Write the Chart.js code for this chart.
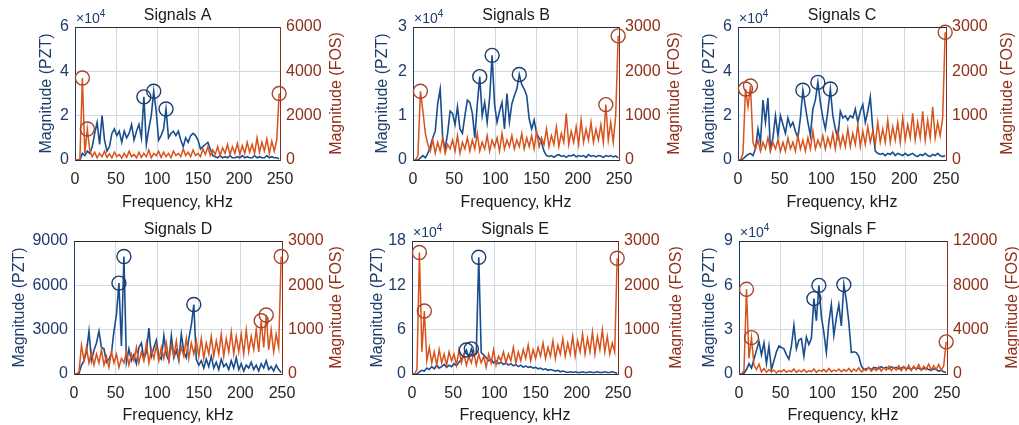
<!DOCTYPE html>
<html>
<head>
<meta charset="utf-8">
<script src="https://cdn.jsdelivr.net/npm/chart.js@4.4.1/dist/chart.umd.min.js"></script>
<style>
  html, body { margin: 0; padding: 0; background: #fff; }
  #wrap { position: relative; width: 1019px; height: 425px; overflow: hidden; background: #fff; }
  .pane { position: absolute; }
</style>
</head>
<body>
<div id="wrap"></div>
<script>
// frequency grid, kHz
var freq = [0,3,6,9,12,15,18,21,24,27,30,33,36,39,42,45,48,51,54,57,60,63,66,69,72,75,78,81,84,87,90,93,96,99,102,105,108,111,114,117,120,123,126,129,132,135,138,141,144,147,150,153,156,159,162,165,168,171,174,177,180,183,186,189,192,195,198,201,204,207,210,213,216,219,222,225,228,231,234,237,240,243,246,249];
var freqTicks = [0, 50, 100, 150, 200, 250];

// Signals A  (PZT in x10^4)
var pztA = [0,0,0,0.3,0.2,0.4,0.3,0.6,1.2,1.7,0.7,2.0,
            0.9,0.4,0.6,1.2,1.4,1.1,1.3,0.8,1.3,1.0,1.2,1.6,
            0.9,1.3,1.6,1.0,2.85,0.7,1.4,2.0,3.1,2.2,0.9,1.1,
            1.4,2.3,1.0,1.2,1.3,1.1,1.3,0.9,0.6,1.0,0.8,1.1,
            1.2,1.1,0.9,0.5,0.6,0.7,0.8,0.5,0.2,0.15,0.1,0.2,
            0.1,0.15,0.1,0.2,0.1,0.1,0.15,0.1,0.2,0.1,0.15,0.1,
            0.1,0.2,0.1,0.15,0.1,0.1,0.2,0.1,0.15,0.1,0.1,0.05];
var fosA = [0,0,50,3700,300,1400,450,150,350,100,300,150,
            400,120,280,100,350,150,250,80,300,120,400,150,
            250,100,350,120,300,150,450,100,300,200,400,120,
            350,150,300,100,400,200,300,150,500,200,350,150,
            450,200,300,150,500,250,600,200,450,250,600,200,
            550,300,700,250,600,300,750,250,650,300,800,350,
            700,300,1000,350,800,400,950,300,850,400,900,3000];
var pztPeakFreqA = [84, 96, 111];
var pztPeakValA = [2.85, 3.1, 2.3];
var fosPeakFreqA = [9, 15, 249];
var fosPeakValA = [3700, 1400, 3000];
var pztTicksA = [0, 2, 4, 6];
var fosTicksA = [0, 2000, 4000, 6000];

// Signals B
var pztB = [0,0,0,0.05,0.1,0.05,0.15,0.3,0.5,0.65,1.27,1.6,
            0.5,0.25,0.6,1.1,1.05,0.8,1.2,0.7,0.6,1.0,1.35,1.3,
            1.05,0.5,1.25,1.88,1.0,1.3,0.85,1.4,2.36,1.25,0.85,1.1,
            1.3,0.7,1.5,0.86,1.27,1.45,1.6,1.93,1.7,1.6,1.45,0.93,
            0.7,0.9,0.6,0.5,0.4,0.2,0.1,0.08,0.1,0.06,0.1,0.12,
            0.08,0.1,0.06,0.1,0.09,0.12,0.07,0.1,0.08,0.1,0.06,0.12,
            0.08,0.1,0.07,0.1,0.09,0.06,0.1,0.08,0.1,0.07,0.09,0.05];
var fosB = [0,0,100,1550,1100,600,350,200,450,150,400,200,
            500,150,350,250,450,200,550,150,400,250,500,200,
            450,250,600,200,400,250,550,200,450,300,500,200,
            600,250,450,300,550,250,450,300,600,250,500,300,
            550,250,650,300,500,350,700,300,550,350,750,300,
            600,400,1050,350,650,400,750,350,900,400,700,450,
            850,400,700,450,800,400,1250,450,850,400,1000,2800];
var pztPeakFreqB = [81, 96, 129];
var pztPeakValB = [1.88, 2.36, 1.93];
var fosPeakFreqB = [9, 234, 249];
var fosPeakValB = [1550, 1250, 2800];
var pztTicksB = [0, 1, 2, 3];
var fosTicksB = [0, 1000, 2000, 3000];

// Signals C
var pztC = [0,0,0.05,0.15,0.25,0.3,0.2,0.5,1.4,0.8,2.7,1.7,
            2.8,0.5,1.0,2.0,1.1,2.0,1.6,1.2,1.9,1.5,1.7,1.3,
            1.0,1.9,3.15,2.4,1.7,1.1,2.3,2.7,3.5,2.6,1.9,1.4,
            2.2,3.2,2.0,1.4,1.0,2.2,1.9,2.0,1.8,2.0,1.9,2.3,
            1.7,2.2,2.5,1.7,2.2,2.85,1.4,0.4,0.3,0.25,0.3,0.2,
            0.3,0.25,0.35,0.2,0.3,0.25,0.2,0.3,0.2,0.25,0.3,0.2,
            0.15,0.25,0.2,0.3,0.2,0.15,0.25,0.2,0.3,0.2,0.15,0.2];
var fosC = [0,0,150,1600,1200,1670,400,250,450,200,400,250,
            500,200,400,250,450,200,400,200,500,250,400,200,
            550,250,450,200,500,250,650,250,450,300,550,250,
            500,300,600,250,650,300,550,300,700,300,600,350,
            800,300,650,350,750,400,650,350,850,400,700,400,
            900,400,750,450,850,400,950,450,800,500,1050,450,
            850,500,1100,450,900,500,1200,500,850,550,950,2880];
var pztPeakFreqC = [78, 96, 111];
var pztPeakValC = [3.15, 3.5, 3.2];
var fosPeakFreqC = [9, 15, 249];
var fosPeakValC = [1600, 1670, 2880];
var pztTicksC = [0, 2, 4, 6];
var fosTicksC = [0, 1000, 2000, 3000];

// Signals D  (PZT raw)
var pztD = [0,0,50,600,900,1500,2900,900,1600,2100,2900,1800,
            1700,800,1000,1400,2900,4000,6150,1900,7950,800,1700,900,
            1300,700,1800,2100,1000,1500,3100,1200,1800,2300,1200,1000,
            2600,1300,900,2600,1100,1600,900,2700,1500,1100,2400,3300,
            4700,1000,600,900,400,1000,500,1200,400,800,300,1000,
            500,700,300,900,400,1100,300,700,200,600,400,800,
            300,600,200,700,400,900,300,500,200,600,300,100];
var fosD = [0,0,50,650,300,600,250,500,200,450,250,550,
            200,400,150,500,250,450,150,350,250,500,200,450,
            300,600,250,500,300,700,250,550,350,650,300,600,
            350,700,300,650,400,750,350,600,400,800,350,700,
            450,750,400,800,350,700,450,850,400,750,450,900,
            400,800,500,950,450,850,500,900,450,1000,500,850,
            550,1000,500,1200,600,1330,550,1000,500,900,600,2650];
var pztPeakFreqD = [54, 60, 144];
var pztPeakValD = [6150, 7950, 4700];
var fosPeakFreqD = [225, 231, 249];
var fosPeakValD = [1200, 1330, 2650];
var pztTicksD = [0, 3000, 6000, 9000];
var fosTicksD = [0, 1000, 2000, 3000];

// Signals E
var pztE = [0,0,0,0.3,0.5,0.4,0.8,0.6,1.0,0.7,1.2,0.8,
            1.0,1.3,0.9,1.2,1.0,1.4,1.1,1.6,2.0,2.6,3.25,2.2,
            3.4,2.5,2.8,15.8,2.9,2.6,2.2,1.8,2.0,1.5,1.8,1.4,
            1.6,1.3,1.5,1.2,1.4,1.1,1.3,1.0,1.2,0.9,1.1,0.9,
            1.0,0.8,0.9,0.7,0.8,0.6,0.7,0.5,0.6,0.5,0.4,0.5,
            0.3,0.4,0.3,0.2,0.3,0.2,0.3,0.2,0.2,0.3,0.2,0.2,
            0.3,0.2,0.2,0.3,0.2,0.2,0.3,0.2,0.2,0.3,0.2,0.1];
var fosE = [0,0,100,2740,500,1420,300,600,250,500,200,550,
            250,450,200,500,300,450,200,550,250,450,200,400,
            250,500,200,450,250,400,150,450,250,550,200,400,
            300,500,250,450,300,600,250,500,300,550,350,650,
            300,550,350,600,400,700,350,600,400,750,350,650,
            450,800,400,700,450,850,400,750,500,900,450,800,
            500,950,450,850,550,1000,500,850,450,700,500,2610];
var pztPeakFreqE = [66, 72, 81];
var pztPeakValE = [3.25, 3.4, 15.8];
var fosPeakFreqE = [9, 15, 249];
var fosPeakValE = [2740, 1420, 2610];
var pztTicksE = [0, 6, 12, 18];
var fosTicksE = [0, 1000, 2000, 3000];

// Signals F
var pztF = [0,0,0.05,0.3,0.7,0.4,1.0,1.6,2.2,1.3,2.1,0.7,
            1.9,0.3,0.9,1.5,1.9,1.8,1.7,1.3,1.0,1.9,3.3,1.7,
            2.3,2.4,1.2,2.5,2.0,2.4,5.1,3.6,6.0,3.9,2.8,1.45,
            3.5,4.7,2.6,3.8,4.7,3.25,6.05,5.0,3.5,1.45,1.5,1.45,
            1.2,0.55,0.3,0.35,0.4,0.3,0.45,0.4,0.35,0.5,0.4,0.45,
            0.35,0.5,0.4,0.45,0.35,0.4,0.5,0.35,0.4,0.3,0.45,0.35,
            0.4,0.3,0.35,0.4,0.3,0.25,0.35,0.3,0.2,0.25,0.15,0.1];
var fosF = [0,0,300,7640,1400,3280,800,400,900,200,500,150,
            400,200,350,100,300,200,400,150,300,200,450,150,
            350,200,400,150,300,200,450,150,350,250,400,200,
            500,200,350,250,450,200,400,250,500,200,450,250,
            550,200,400,300,600,250,500,300,650,250,550,350,
            700,300,600,350,750,300,650,350,800,300,700,400,
            850,350,700,400,900,350,750,400,850,350,700,2900];
var pztPeakFreqF = [90, 96, 126];
var pztPeakValF = [5.1, 6.0, 6.05];
var fosPeakFreqF = [9, 15, 249];
var fosPeakValF = [7640, 3280, 2900];
var pztTicksF = [0, 3, 6, 9];
var fosTicksF = [0, 4000, 8000, 12000];

var titles = ['Signals A', 'Signals B', 'Signals C', 'Signals D', 'Signals E', 'Signals F'];
var pztExp = [4, 4, 4, 0, 4, 4];

// --- styling / geometry ---
var FONT = '"Liberation Sans", Arial, Helvetica, sans-serif';
var NAVY = '#1c3c6c', DARKRED = '#912e18', BLUE = '#184d90', ORANGE = '#d8531b';
var GRID = '#d0d9e2', FRAME = '#2b2b2b';

// canvas box (cx,cy,cw,ch), plot box (L,R,T,B), label offsets (lo,ro)
var boxes = [
  {cx: 0,   cy: 0,   cw: 360, ch: 212, L: 75,  R: 280, T: 27,  B: 160, lo: 28, ro: 57},
  {cx: 338, cy: 0,   cw: 345, ch: 212, L: 413, R: 619, T: 27,  B: 160, lo: 30, ro: 56},
  {cx: 663, cy: 0,   cw: 356, ch: 212, L: 738, R: 946, T: 27,  B: 160, lo: 28, ro: 62},
  {cx: 0,   cy: 212, cw: 360, ch: 213, L: 74,  R: 282, T: 241, B: 374, lo: 54, ro: 55},
  {cx: 338, cy: 212, cw: 345, ch: 213, L: 412, R: 618, T: 241, B: 374, lo: 34, ro: 59},
  {cx: 663, cy: 212, cw: 356, ch: 213, L: 739, R: 947, T: 241, B: 374, lo: 29, ro: 66}
];

var panels = [
  {pzt: pztA, fos: fosA, pf: pztPeakFreqA, pv: pztPeakValA, ff: fosPeakFreqA, fv: fosPeakValA, lt: pztTicksA, rt: fosTicksA},
  {pzt: pztB, fos: fosB, pf: pztPeakFreqB, pv: pztPeakValB, ff: fosPeakFreqB, fv: fosPeakValB, lt: pztTicksB, rt: fosTicksB},
  {pzt: pztC, fos: fosC, pf: pztPeakFreqC, pv: pztPeakValC, ff: fosPeakFreqC, fv: fosPeakValC, lt: pztTicksC, rt: fosTicksC},
  {pzt: pztD, fos: fosD, pf: pztPeakFreqD, pv: pztPeakValD, ff: fosPeakFreqD, fv: fosPeakValD, lt: pztTicksD, rt: fosTicksD},
  {pzt: pztE, fos: fosE, pf: pztPeakFreqE, pv: pztPeakValE, ff: fosPeakFreqE, fv: fosPeakValE, lt: pztTicksE, rt: fosTicksE},
  {pzt: pztF, fos: fosF, pf: pztPeakFreqF, pv: pztPeakValF, ff: fosPeakFreqF, fv: fosPeakValF, lt: pztTicksF, rt: fosTicksF}
];

function pairs(xs, ys) {
  return xs.map(function (x, i) { return {x: x, y: ys[i]}; });
}

function fixedTicks(arr) {
  return function (scale) {
    scale.ticks = arr.map(function (v) { return {value: v}; });
  };
}

// titles, rotated axis labels, x10^n and the top frame line
function labelPlugin(k) {
  var b = boxes[k];
  return {
    id: 'labels' + k,
    afterDraw: function (chart) {
      var ctx = chart.ctx, a = chart.chartArea;
      var midY = (a.top + a.bottom) / 2;
      ctx.save();
      ctx.strokeStyle = FRAME;
      ctx.lineWidth = 1;
      ctx.beginPath();
      ctx.moveTo(a.left, a.top + 0.5);
      ctx.lineTo(a.right, a.top + 0.5);
      ctx.stroke();

      ctx.font = '16px ' + FONT;
      ctx.fillStyle = '#1a1a1a';
      ctx.textAlign = 'center';
      ctx.textBaseline = 'alphabetic';
      ctx.fillText(titles[k], (a.left + a.right) / 2, a.top - 7);

      ctx.textBaseline = 'middle';
      ctx.save();
      ctx.translate(a.left - b.lo, midY);
      ctx.rotate(-Math.PI / 2);
      ctx.fillStyle = NAVY;
      ctx.fillText('Magnitude (PZT)', 0, 0);
      ctx.restore();

      ctx.save();
      ctx.translate(a.right + b.ro, midY);
      ctx.rotate(-Math.PI / 2);
      ctx.fillStyle = DARKRED;
      ctx.fillText('Magnitude (FOS)', 0, 0);
      ctx.restore();

      if (pztExp[k]) {
        ctx.textAlign = 'left';
        ctx.textBaseline = 'alphabetic';
        ctx.fillStyle = NAVY;
        ctx.font = '14px ' + FONT;
        ctx.fillText('\u00d710', a.left + 1, a.top - 4);
        var w = ctx.measureText('\u00d710').width;
        ctx.font = '10px ' + FONT;
        ctx.fillText(String(pztExp[k]), a.left + 1 + w, a.top - 10);
      }
      ctx.restore();
    }
  };
}

panels.forEach(function (p, k) {
  var b = boxes[k];
  var div = document.createElement('div');
  div.className = 'pane';
  div.style.left = b.cx + 'px';
  div.style.top = b.cy + 'px';
  var cv = document.createElement('canvas');
  cv.width = b.cw;
  cv.height = b.ch;
  cv.style.width = b.cw + 'px';
  cv.style.height = b.ch + 'px';
  div.appendChild(cv);
  document.getElementById('wrap').appendChild(div);

  var tickFont = {family: FONT, size: 16};

  new Chart(cv.getContext('2d'), {
    type: 'line',
    data: {
      datasets: [
        {
          label: 'PZT peaks', type: 'scatter', data: pairs(p.pf, p.pv), yAxisID: 'y',
          pointStyle: 'circle', pointRadius: 7, pointBorderWidth: 1.4,
          pointBorderColor: NAVY, pointBackgroundColor: 'rgba(0,0,0,0)',
          showLine: false, clip: false, order: 0
        },
        {
          label: 'FOS peaks', type: 'scatter', data: pairs(p.ff, p.fv), yAxisID: 'y1',
          pointStyle: 'circle', pointRadius: 7, pointBorderWidth: 1.4,
          pointBorderColor: '#a8442a', pointBackgroundColor: 'rgba(0,0,0,0)',
          showLine: false, clip: false, order: 0
        },
        {
          label: 'FOS', data: pairs(freq, p.fos), yAxisID: 'y1',
          borderColor: ORANGE, borderWidth: 1.5, pointRadius: 0, tension: 0, order: 1
        },
        {
          label: 'PZT', data: pairs(freq, p.pzt), yAxisID: 'y',
          borderColor: BLUE, borderWidth: 1.6, pointRadius: 0, tension: 0, order: 2
        }
      ]
    },
    options: {
      responsive: false,
      animation: false,
      layout: {padding: {top: b.T - b.cy, left: 0, right: 0, bottom: 0}},
      plugins: {legend: {display: false}, tooltip: {enabled: false}},
      scales: {
        x: {
          type: 'linear', min: 0, max: 250,
          afterBuildTicks: fixedTicks(freqTicks),
          afterFit: function (s) { s.height = b.cy + b.ch - b.B; },
          grid: {color: GRID, drawTicks: false},
          border: {color: FRAME},
          ticks: {font: tickFont, color: '#262626', padding: 10, maxRotation: 0, autoSkip: false},
          title: {display: true, text: 'Frequency, kHz', font: tickFont, color: '#1a1a1a', padding: {top: 0, bottom: 0}}
        },
        y: {
          position: 'left', min: p.lt[0], max: p.lt[p.lt.length - 1],
          afterBuildTicks: fixedTicks(p.lt),
          afterFit: function (s) { s.width = b.L - b.cx; },
          grid: {color: GRID, drawTicks: false},
          border: {color: NAVY},
          ticks: {font: tickFont, color: NAVY, padding: 6, callback: function (v) { return String(v); }}
        },
        y1: {
          position: 'right', min: p.rt[0], max: p.rt[p.rt.length - 1],
          afterBuildTicks: fixedTicks(p.rt),
          afterFit: function (s) { s.width = b.cx + b.cw - b.R; },
          grid: {display: false, drawTicks: false},
          border: {color: DARKRED},
          ticks: {font: tickFont, color: DARKRED, padding: 6, callback: function (v) { return String(v); }}
        }
      }
    },
    plugins: [labelPlugin(k)]
  });
});
</script>
</body>
</html>
